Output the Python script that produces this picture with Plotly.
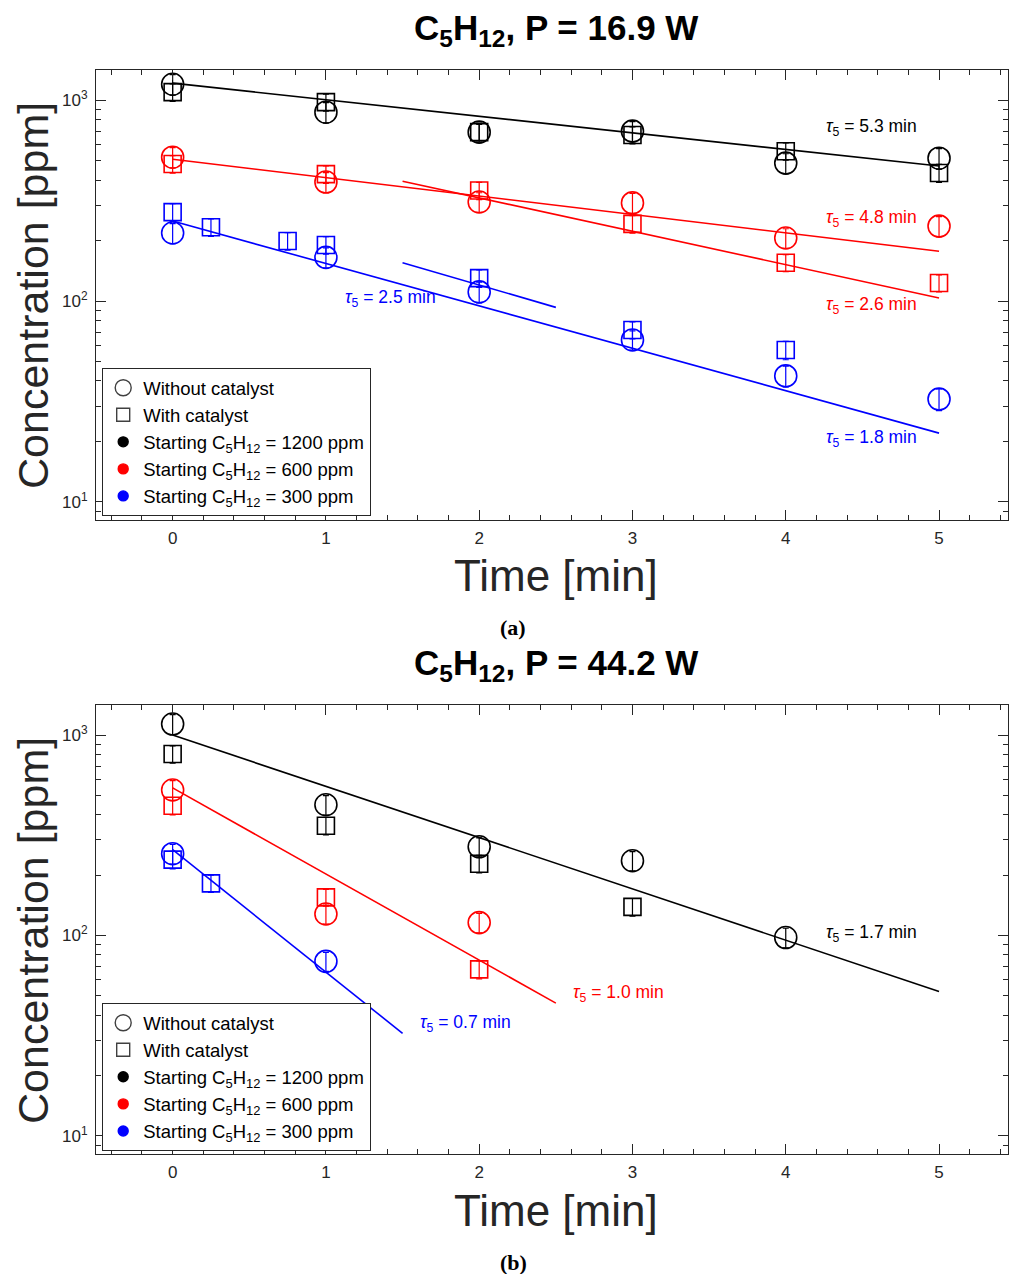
import numpy as np
import plotly.graph_objects as go

# ---------------- Data ----------------
# Panel (a): P = 16.9 W
t_a = [0, 1, 2, 3, 4, 5]
t_a_blue_cat = [0, 0.25, 0.75, 1, 2, 3, 4]
a_black_nocat = [1200, 871, 693, 701, 486, 514]
a_black_cat = [1096, 977, 693, 670, 557, 434]
a_red_nocat = [520, 391, 311, 308, 206, 236]
a_red_cat = [481, 428, 355, 242, 155, 123]
a_blue_nocat = [218, 165, 111, 64, 42.4, 32.5]
a_blue_cat = [277, 233, 199, 190, 130, 71.8, 57]

a_black_nocat_err = [140, 100, 75, 80, 55, 60]
a_black_cat_err = [110, 95, 65, 65, 55, 45]
a_red_nocat_err = [60, 45, 35, 35, 23, 27]
a_red_cat_err = [48, 43, 35, 24, 15, 12]
a_blue_nocat_err = [25, 19, 13, 7, 5, 4]
a_blue_cat_err = [28, 23, 20, 19, 13, 7, 6]

# fitted lines (end points)
fit_a_black_t, fit_a_black_y = [0, 5], [1215, 470]
fit_a_red1_t, fit_a_red1_y = [0, 5], [508, 177]
fit_a_red2_t, fit_a_red2_y = [1.5, 5], [395, 103.5]
fit_a_blue1_t, fit_a_blue1_y = [0, 5], [250, 22]
fit_a_blue2_t, fit_a_blue2_y = [1.5, 2.5], [155, 93]

# Panel (b): P = 44.2 W
t_b_black_nocat = [0, 1, 2, 3, 4]
t_b_black_cat = [0, 1, 2, 3]
t_b_red = [0, 1, 2]
t_b_blue_nocat = [0, 1]
t_b_blue_cat = [0, 0.25]
b_black_nocat = [1135, 449, 277, 236, 97.7]
b_black_cat = [804, 353, 228, 139]
b_red_nocat = [532, 128, 116]
b_red_cat = [444, 155, 67.8]
b_blue_nocat = [256, 74.3]
b_blue_cat = [239, 182]

b_black_nocat_err = [130, 50, 30, 26, 11]
b_black_cat_err = [80, 35, 23, 14]
b_red_nocat_err = [60, 14, 13]
b_red_cat_err = [44, 15, 7]
b_blue_nocat_err = [29, 8]
b_blue_cat_err = [24, 18]

fit_b_black_t, fit_b_black_y = [0, 5], [1000, 52.6]
fit_b_red_t, fit_b_red_y = [0, 2.5], [545, 46]
fit_b_blue_t, fit_b_blue_y = [0, 1.5], [268, 32.5]

# annotations: (text value, x, y, color)
ann_a = [("5.3", 4.25, 727, "black"), ("4.8", 4.25, 259, "red"),
         ("2.6", 4.25, 94.5, "red"), ("1.8", 4.25, 20.8, "blue"),
         ("2.5", 1.11, 103, "blue")]
ann_b = [("1.7", 4.25, 102, "black"), ("1.0", 2.60, 51.4, "red"),
         ("0.7", 1.60, 36.5, "blue")]

y_tickvals = [10, 100, 1000]
y_ticktext = ["10<sup>1</sup>", "10<sup>2</sup>", "10<sup>3</sup>"]

legend_labels = ["Without catalyst", "With catalyst",
                 "Starting C<sub>5</sub>H<sub>12</sub> = 1200 ppm",
                 "Starting C<sub>5</sub>H<sub>12</sub> = 600 ppm",
                 "Starting C<sub>5</sub>H<sub>12</sub> = 300 ppm"]

titles = ["<b>C<sub>5</sub>H<sub>12</sub>, P = 16.9 W</b>",
          "<b>C<sub>5</sub>H<sub>12</sub>, P = 44.2 W</b>"]

# ---------------- Figure ----------------
FONT = "Liberation Sans, Arial, Helvetica, sans-serif"
AX = "#262626"
W, H = 1010, 1274
fig = go.Figure()


def pts(t, v, err, color, symbol, size, xa, ya):
    fig.add_trace(go.Scatter(
        x=t, y=v, mode="markers", showlegend=False, xaxis=xa, yaxis=ya,
        marker=dict(symbol=symbol, size=size, color=color,
                    line=dict(width=1.6, color=color)),
        error_y=dict(type="data", array=err, color=color, thickness=1.2, width=3)))


def line(t, v, color, xa, ya):
    fig.add_trace(go.Scatter(x=t, y=v, mode="lines", showlegend=False,
                             xaxis=xa, yaxis=ya,
                             line=dict(color=color, width=1.6)))


# panel a
line(fit_a_black_t, fit_a_black_y, "black", "x", "y")
line(fit_a_red1_t, fit_a_red1_y, "red", "x", "y")
line(fit_a_red2_t, fit_a_red2_y, "red", "x", "y")
line(fit_a_blue1_t, fit_a_blue1_y, "blue", "x", "y")
line(fit_a_blue2_t, fit_a_blue2_y, "blue", "x", "y")
for v, e, c in [(a_black_nocat, a_black_nocat_err, "black"),
                (a_red_nocat, a_red_nocat_err, "red"),
                (a_blue_nocat, a_blue_nocat_err, "blue")]:
    pts(t_a, v, e, c, "circle-open", 22, "x", "y")
for t, v, e, c in [(t_a, a_black_cat, a_black_cat_err, "black"),
                   (t_a, a_red_cat, a_red_cat_err, "red"),
                   (t_a_blue_cat, a_blue_cat, a_blue_cat_err, "blue")]:
    pts(t, v, e, c, "square-open", 17, "x", "y")

# panel b
line(fit_b_black_t, fit_b_black_y, "black", "x2", "y2")
line(fit_b_red_t, fit_b_red_y, "red", "x2", "y2")
line(fit_b_blue_t, fit_b_blue_y, "blue", "x2", "y2")
for t, v, e, c in [(t_b_black_nocat, b_black_nocat, b_black_nocat_err, "black"),
                   (t_b_red, b_red_nocat, b_red_nocat_err, "red"),
                   (t_b_blue_nocat, b_blue_nocat, b_blue_nocat_err, "blue")]:
    pts(t, v, e, c, "circle-open", 22, "x2", "y2")
for t, v, e, c in [(t_b_black_cat, b_black_cat, b_black_cat_err, "black"),
                   (t_b_red, b_red_cat, b_red_cat_err, "red"),
                   (t_b_blue_cat, b_blue_cat, b_blue_cat_err, "blue")]:
    pts(t, v, e, c, "square-open", 17, "x2", "y2")

# legend entries
leg_styles = [("circle-open", 16, "#404040"), ("square-open", 13, "#404040"),
              ("circle", 10, "black"), ("circle", 10, "red"), ("circle", 10, "blue")]
for lg, xa, ya in [("legend", "x", "y"), ("legend2", "x2", "y2")]:
    for lab, (sym, sz, col) in zip(legend_labels, leg_styles):
        fig.add_trace(go.Scatter(
            x=[None], y=[None], mode="markers", name=lab, legend=lg,
            xaxis=xa, yaxis=ya,
            marker=dict(symbol=sym, size=sz, color=col,
                        line=dict(width=1.4, color=col))))

xcommon = dict(range=[-0.5, 5.45], dtick=1, tick0=0, ticks="inside", ticklen=10,
               tickcolor=AX, tickwidth=1, showline=True, linecolor=AX, linewidth=1.2,
               mirror="ticks", showgrid=False, zeroline=False,
               minor=dict(ticks="inside", ticklen=5, dtick=0.2, tick0=0,
                          tickcolor=AX, showgrid=False),
               tickfont=dict(family=FONT, size=17, color=AX), ticklabelstandoff=2)
ycommon = dict(type="log", range=[0.91, 3.15], tickmode="array",
               tickvals=y_tickvals, ticktext=y_ticktext,
               ticks="inside", ticklen=10, tickcolor=AX, tickwidth=1,
               showline=True, linecolor=AX, linewidth=1.2, mirror="ticks",
               showgrid=False, zeroline=False,
               minor=dict(ticks="inside", ticklen=5, dtick="D1",
                          tickcolor=AX, showgrid=False),
               tickfont=dict(family=FONT, size=17, color=AX), ticklabelstandoff=4)

xd = [96 / W, 1008 / W]
ya_dom = [1 - 520 / H, 1 - 70 / H]
yb_dom = [1 - 1154 / H, 1 - 705 / H]

annotations = []
for txt, ypix in zip(titles, [30, 665]):
    annotations.append(dict(text=txt, x=556 / W, y=1 - ypix / H, xref="paper", yref="paper",
                            xanchor="center", yanchor="middle", showarrow=False,
                            font=dict(family=FONT, size=35, color="black")))
for ypix in [575, 1210]:
    annotations.append(dict(text="Time [min]", x=556 / W, y=1 - ypix / H, xref="paper",
                            yref="paper", xanchor="center", yanchor="middle",
                            showarrow=False, font=dict(family=FONT, size=44, color=AX)))
for ypix in [296, 931]:
    annotations.append(dict(text="Concentration [ppm]", x=33 / W, y=1 - ypix / H,
                            xref="paper", yref="paper", xanchor="center",
                            yanchor="middle", textangle=-90, showarrow=False,
                            font=dict(family=FONT, size=43, color=AX)))
for txt, ypix in [("<b>(a)</b>", 627), ("<b>(b)</b>", 1262)]:
    annotations.append(dict(text=txt, x=513 / W, y=1 - ypix / H, xref="paper",
                            yref="paper", xanchor="center", yanchor="middle",
                            showarrow=False,
                            font=dict(family="Liberation Serif, serif", size=22,
                                      color="black")))
for anns, xr, yr in [(ann_a, "x", "y"), (ann_b, "x2", "y2")]:
    for val, x, y, col in anns:
        annotations.append(dict(text="<i>τ</i><sub>5</sub> = " + val + " min",
                                x=x, y=np.log10(y), xref=xr, yref=yr,
                                xanchor="left", yanchor="middle", showarrow=False,
                                font=dict(family=FONT, size=17.5, color=col)))

legend_common = dict(bgcolor="white", bordercolor=AX, borderwidth=1.2,
                     font=dict(family=FONT, size=18.5, color="black"),
                     xanchor="left", yanchor="top", itemsizing="trace",
                     tracegroupgap=0, itemwidth=30)

fig.update_layout(
    width=W, height=H, autosize=False,
    margin=dict(l=0, r=0, t=0, b=0),
    paper_bgcolor="white", plot_bgcolor="white",
    xaxis=dict(domain=xd, anchor="y", **xcommon),
    yaxis=dict(domain=ya_dom, anchor="x", **ycommon),
    xaxis2=dict(domain=xd, anchor="y2", **xcommon),
    yaxis2=dict(domain=yb_dom, anchor="x2", **ycommon),
    legend=dict(x=102 / W, y=1 - 368 / H, **legend_common),
    legend2=dict(x=102 / W, y=1 - 1003 / H, **legend_common),
    annotations=annotations,
    font=dict(family=FONT),
)

fig.write_html("out.html")
